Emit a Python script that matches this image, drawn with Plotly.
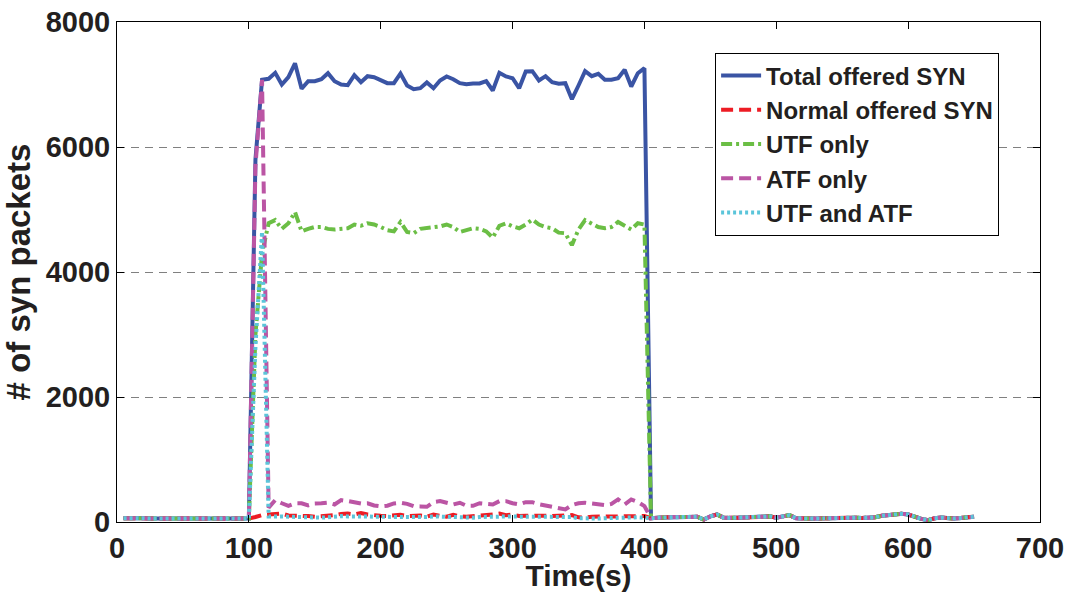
import plotly.graph_objects as go

# Sampling instants (s), one sample every 5 seconds
time = list(range(5, 655, 5))

# Idle traffic before the flood (t = 5 ... 100)
idle_before = [60, 65, 60, 60, 55, 55, 55, 50, 45, 50,
               45, 55, 60, 50, 45, 50, 50, 45, 45, 55]

# Idle traffic after the flood (t = 405 ... 650)
idle_after = [60, 70, 75, 80, 80, 75, 80, 85, 40, 90,
              120, 70, 65, 70, 70, 75, 85, 90, 90, 70,
              95, 110, 60, 50, 55, 55, 60, 65, 70, 70,
              70, 70, 65, 70, 75, 100, 115, 125, 130, 120,
              80, 50, 30, 60, 70, 60, 55, 65, 80, 85]

# Flood period (t = 105 ... 400), one list per series
total_flood = [5800, 7075, 7091, 7187, 7000, 7117, 7340, 6931, 7053, 7053,
               7085, 7181, 7053, 7000, 6989, 7149, 7037, 7133, 7117, 7075,
               7021, 7021, 7176, 6984, 6925, 6941, 7032, 6941, 7064, 7128,
               7085, 7021, 7005, 7016, 7016, 7053, 6904, 7187, 7128, 7101,
               6941, 7208, 7213, 7064, 7133, 7037, 7011, 7021, 6765, 6984,
               7213, 7133, 7171, 7075, 7075, 7101, 7235, 6968, 7181, 7261]

normal_flood = [80, 110, 120, 125, 135, 105, 105, 105, 95, 85,
                90, 95, 110, 130, 135, 120, 145, 120, 105, 100,
                95, 110, 115, 95, 100, 105, 85, 120, 100, 85,
                115, 90, 85, 90, 105, 105, 120, 135, 110, 120,
                95, 100, 105, 105, 100, 95, 105, 115, 110, 75,
                70, 85, 85, 90, 95, 85, 100, 100, 95, 95]

utf_flood = [3000, 4300, 4780, 4830, 4690, 4780, 4960, 4650, 4690, 4720,
             4720, 4690, 4680, 4690, 4700, 4760, 4740, 4780, 4760, 4720,
             4670, 4650, 4800, 4640, 4620, 4690, 4700, 4720, 4730, 4760,
             4720, 4640, 4670, 4700, 4690, 4650, 4550, 4740, 4780, 4730,
             4700, 4760, 4840, 4760, 4720, 4700, 4630, 4620, 4430, 4680,
             4830, 4780, 4720, 4700, 4720, 4800, 4740, 4680, 4780, 4760]

atf_flood = [5700, 7075, 230, 350, 300, 260, 300, 300, 265, 295,
             300, 310, 280, 350, 335, 310, 297, 300, 265, 250,
             260, 297, 308, 290, 254, 250, 244, 320, 334, 308,
             281, 308, 260, 260, 300, 290, 281, 334, 334, 300,
             281, 318, 318, 285, 265, 254, 220, 201, 270, 300,
             308, 297, 275, 270, 290, 361, 281, 361, 320, 254]

both_flood = [2800, 4640, 90, 95, 90, 85, 80, 75, 70, 70,
              70, 75, 90, 95, 90, 95, 95, 90, 85, 80,
              80, 85, 80, 80, 75, 70, 80, 90, 85, 80,
              80, 80, 70, 70, 80, 85, 85, 90, 90, 90,
              85, 85, 85, 80, 85, 80, 85, 85, 80, 60,
              55, 60, 55, 60, 65, 70, 65, 70, 75, 70]

series_names = ["Total offered SYN", "Normal offered SYN", "UTF only",
                "ATF only", "UTF and ATF"]
series_flood = [total_flood, normal_flood, utf_flood, atf_flood, both_flood]
series_colors = ["#3A54A4", "#ED1C24", "#6BBE45", "#BB55A4", "#5BC5DA"]
series_dash = ["solid", "12px,6px", "11px,4px,3px,4px", "12px,6px", "3px,3px"]

FONT = "Liberation Sans, Arial, Helvetica, sans-serif"
INK = "#231F20"

fig = go.Figure()
for name, flood, color, dash in zip(series_names, series_flood,
                                    series_colors, series_dash):
    values = idle_before + flood + idle_after
    fig.add_trace(go.Scatter(
        x=time, y=values, name=name, mode="lines",
        line=dict(color=color, width=4, dash=dash),
    ))

axis_common = dict(
    showline=True, linecolor="black", linewidth=1, mirror="ticks",
    ticks="inside", ticklen=7, tickcolor="black", tickwidth=1,
    zeroline=False, automargin=False,
    tickfont=dict(family=FONT, size=29, color=INK, weight="bold"),
)

fig.update_layout(
    width=1070, height=592,
    margin=dict(l=117, r=30, t=22, b=70),
    paper_bgcolor="white", plot_bgcolor="white",
    font=dict(family=FONT, color=INK),
    xaxis=dict(
        range=[0, 700], dtick=100, showgrid=False,
        title=dict(text="Time(s)", standoff=2,
                   font=dict(family=FONT, size=30, color=INK, weight="bold")),
        **axis_common,
    ),
    yaxis=dict(
        range=[0, 8000], dtick=2000, showgrid=True,
        gridcolor="#808080", gridwidth=1, griddash="8px,6px",
        title=dict(text="# of syn packets", standoff=6,
                   font=dict(family=FONT, size=33, color=INK, weight="bold")),
        **axis_common,
    ),
    legend=dict(
        x=0.648, y=0.939, xanchor="left", yanchor="top",
        bgcolor="white", bordercolor="black", borderwidth=1,
        font=dict(family=FONT, size=24, color=INK, weight="bold"),
        tracegroupgap=0, itemwidth=40,
    ),
    showlegend=True,
)

fig.write_html("out.html")
